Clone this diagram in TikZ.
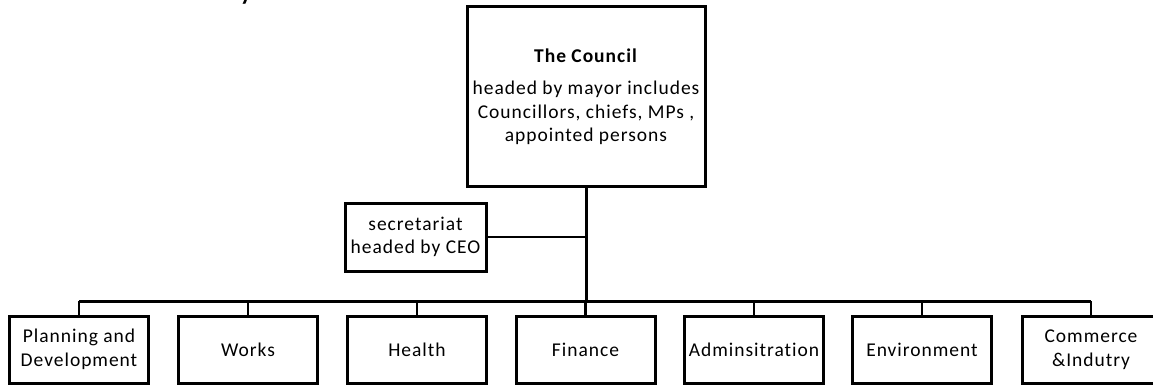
\documentclass[tikz,border=0pt]{standalone}
\usepackage{fontspec}
\setmainfont{Carlito}[LetterSpace=5, Ligatures=NoCommon]
\begin{document}
\begin{tikzpicture}[x=1pt,y=-1pt,
  box/.style={draw, line width=3pt, inner sep=0pt, align=center, font=\fontsize{19.5}{23.5}\selectfont},
  dept/.style={box, minimum width=139pt, minimum height=67pt},
  link/.style={line width=2.4pt},
  trunk/.style={line width=3pt}]
\useasboundingbox (0,0) rectangle (1153,385);
\fill[white] (0,0) rectangle (1153,385);
\node[anchor=base, font=\fontsize{24}{28}\selectfont\bfseries] (title) at (246,1) {y};
\node[box, minimum width=238pt, minimum height=179pt] (council) at (586,96.5)
  {\textbf{The Council}\\[9pt] headed by mayor includes\\ Councillors, chiefs, MPs ,\\ appointed persons};
\node[box, minimum width=141pt, minimum height=68pt] (sec) at (415.5,237) {secretariat\\ headed by CEO};
\node[dept] (d1) at (79,349.5) {Planning and\\ Development};
\node[dept] (d2) at (248,349.5) {Works};
\node[dept] (d3) at (417,349.5) {Health};
\node[dept] (d4) at (585.5,349.5) {Finance};
\node[dept] (d5) at (754,349.5) {Adminsitration};
\node[dept] (d6) at (922,349.5) {Environment};
\node[dept, minimum width=138pt] (d7) at (1091,349.5) {Commerce\\ \&Indutry};
\coordinate (bus) at (586,301);
\draw[trunk] (council.south) -- (bus);
\draw[link] (sec.east) -- (sec.east -| council.south);
\draw[trunk] (d1.north |- bus) -- (d7.north |- bus);
\foreach \i in {1,...,7} \draw[link] (d\i.north) -- (d\i.north |- bus);
\end{tikzpicture}
\end{document}
